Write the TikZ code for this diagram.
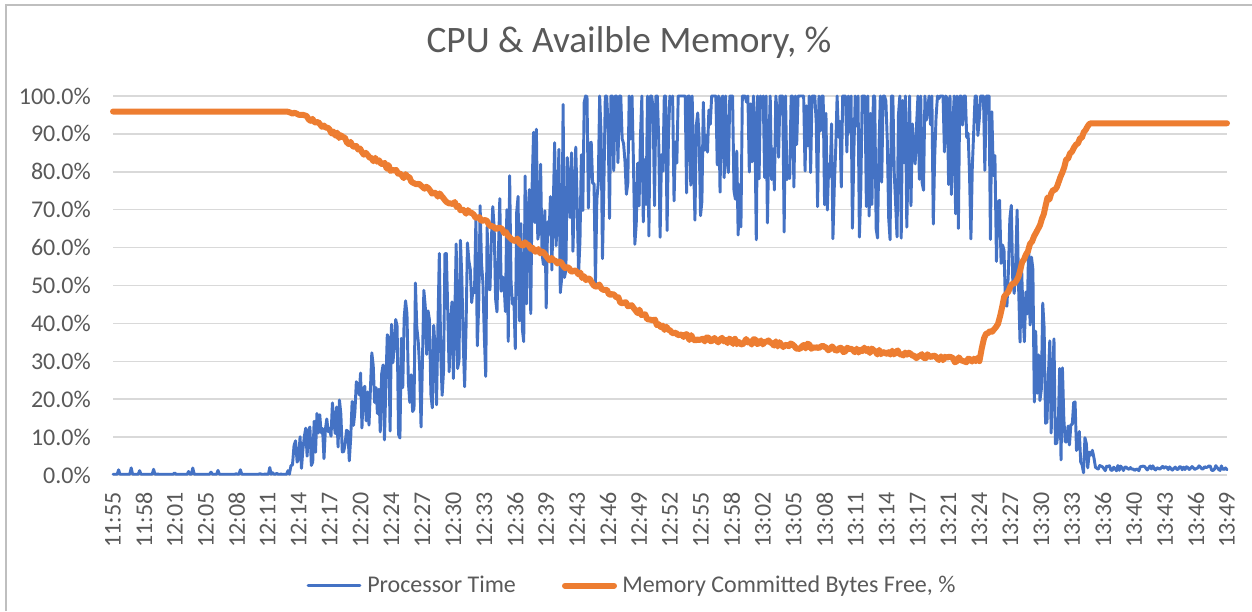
\documentclass[tikz,border=0pt]{standalone}
\usepackage{fontspec}
\setmainfont{Carlito}

\definecolor{cpublue}{HTML}{4472C4}
\definecolor{memorange}{HTML}{ED7D31}
\definecolor{gridgray}{HTML}{D9D9D9}
\definecolor{textgray}{HTML}{595959}
\definecolor{framegray}{HTML}{BFBFBF}

\begin{document}
\begin{tikzpicture}[x=0.75pt, y=0.75pt,
    lab/.style={text=textgray, font=\fontsize{18}{20}\selectfont, inner sep=0pt},
    cpu/.style={draw=cpublue, line width=2.2pt, line join=round, line cap=round},
    mem/.style={draw=memorange, line width=4.5pt, line join=round, line cap=round}]
    \pgfmathsetseed{4711}
    \useasboundingbox (0,0) rectangle (1252,611);
    \draw[framegray, line width=1.2pt] (6,0) -- (6,606) -- (1252,606);

    \node[lab, font=\fontsize{28}{30}\selectfont, anchor=base] (title) at (629,558) {CPU \& Availble Memory, \%};

    \begin{scope}[shift={(113,136)}, x=23.208pt, y=2.8425pt]
        % grid and axis labels
        \foreach \v in {0,10,...,100} {
            \draw[gridgray, line width=1.2pt] (0,\v) -- (36,\v);
            \node[lab, anchor=east] (y\v) at ([xshift=-16.5pt]0,\v) {\v.0\%};
        }
        \foreach \t [count=\i from 0] in {11:55,11:58,12:01,12:05,12:08,12:11,12:14,12:17,12:20,12:24,12:27,12:30,12:33,12:36,12:39,12:43,12:46,12:49,12:52,12:55,12:58,13:02,13:05,13:08,13:11,13:14,13:17,13:21,13:24,13:27,13:30,13:33,13:36,13:40,13:43,13:46,13:49} {
            \node[lab, rotate=90, anchor=east] (t\i) at ([yshift=-12.75pt]\i,0) {\t};
        }

        % processor time: mean and spread between knots
        \draw[cpu] (0,0.2) foreach \ta/\tb/\ma/\mb/\sa/\sb [evaluate=\ta as \n using {int((\tb-\ta)/0.045)}] in {
            0/5.7/-3/-3/5/5, 5.7/6/3/6/3/6, 6/8/6/16/6/12, 8/10/16/33/12/21,
            10/11.5/33/47/21/26, 11.5/13.5/47/64/26/28, 13.5/15/64/74/28/29,
            15/16.5/74/90/29/32, 16.5/17.5/90/96/32/34, 17.5/28.4/96/96/34/34,
            28.4/28.7/96/62/34/22, 28.7/29.5/62/45/22/20, 29.5/30/45/30/20/18,
            30/30.5/30/20/18/16, 30.5/31/20/12/16/10, 31/31.5/12/8/10/8,
            31.5/31.75/8/1.8/8/0.7, 31.75/36/1.8/1.8/0.7/0.7} {
            foreach \k in {1,...,\n} {
                -- ({\ta+(\tb-\ta)*\k/\n}, {max(0.2,min(100,\ma+(\mb-\ma)*\k/\n+(\sa+(\sb-\sa)*\k/\n)*rand))})
            }
        };

        % memory committed bytes free
        \draw[mem] (0,95.9) foreach \ta/\tb/\ma/\mb/\s [evaluate=\ta as \n using {int((\tb-\ta)/0.06)}] in {
            0/5.6/95.9/95.9/0, 5.6/6.2/95.9/94.8/0.2, 6.2/7/94.8/91/0.5,
            7/8.6/91/82.5/0.7, 8.6/10.25/82.5/75.2/0.7, 10.25/11.9/75.2/67.3/0.7,
            11.9/13.5/67.3/60/0.7, 13.5/15.1/60/53/0.7, 15.1/16.7/53/44.5/0.7,
            16.7/17.7/44.5/39.5/0.7, 17.7/18.5/39.5/36.5/0.8, 18.5/19.5/36.5/35.5/0.8,
            19.5/21/35.5/35/0.8, 21/22.2/35/34/0.8, 22.2/24.4/34/32.8/0.8,
            24.4/26.5/32.8/31.2/0.8, 26.5/27.4/31.2/30.2/0.8, 27.4/28/30.2/30.4/0.8,
            28/28.15/30.4/36.5/0.5, 28.15/28.6/36.5/39.6/0.6, 28.6/28.8/39.6/47/0.6,
            28.8/29.2/47/51.5/0.6, 29.2/29.5/51.5/58.5/0.6, 29.5/29.9/58.5/64.6/0.6,
            29.9/30.2/64.6/72.6/0.6, 30.2/30.5/72.6/76/0.6, 30.5/30.8/76/83/0.6,
            30.8/31.25/83/88.4/0.6, 31.25/31.55/88.4/92.8/0.3, 31.55/36/92.8/92.8/0} {
            foreach \k in {1,...,\n} {
                -- ({\ta+(\tb-\ta)*\k/\n}, {\ma+(\mb-\ma)*\k/\n+\s*rand})
            }
        };
    \end{scope}

    % legend
    \draw[cpu] (308,25.3) -- (360,25.3);
    \node[lab, anchor=base west] (legcpu) at (367,18.3) {Processor Time};
    \draw[mem] (565,25.3) -- (614,25.3);
    \node[lab, anchor=base west] (legmem) at (622,18.3) {Memory Committed Bytes Free, \%};
\end{tikzpicture}
\end{document}
